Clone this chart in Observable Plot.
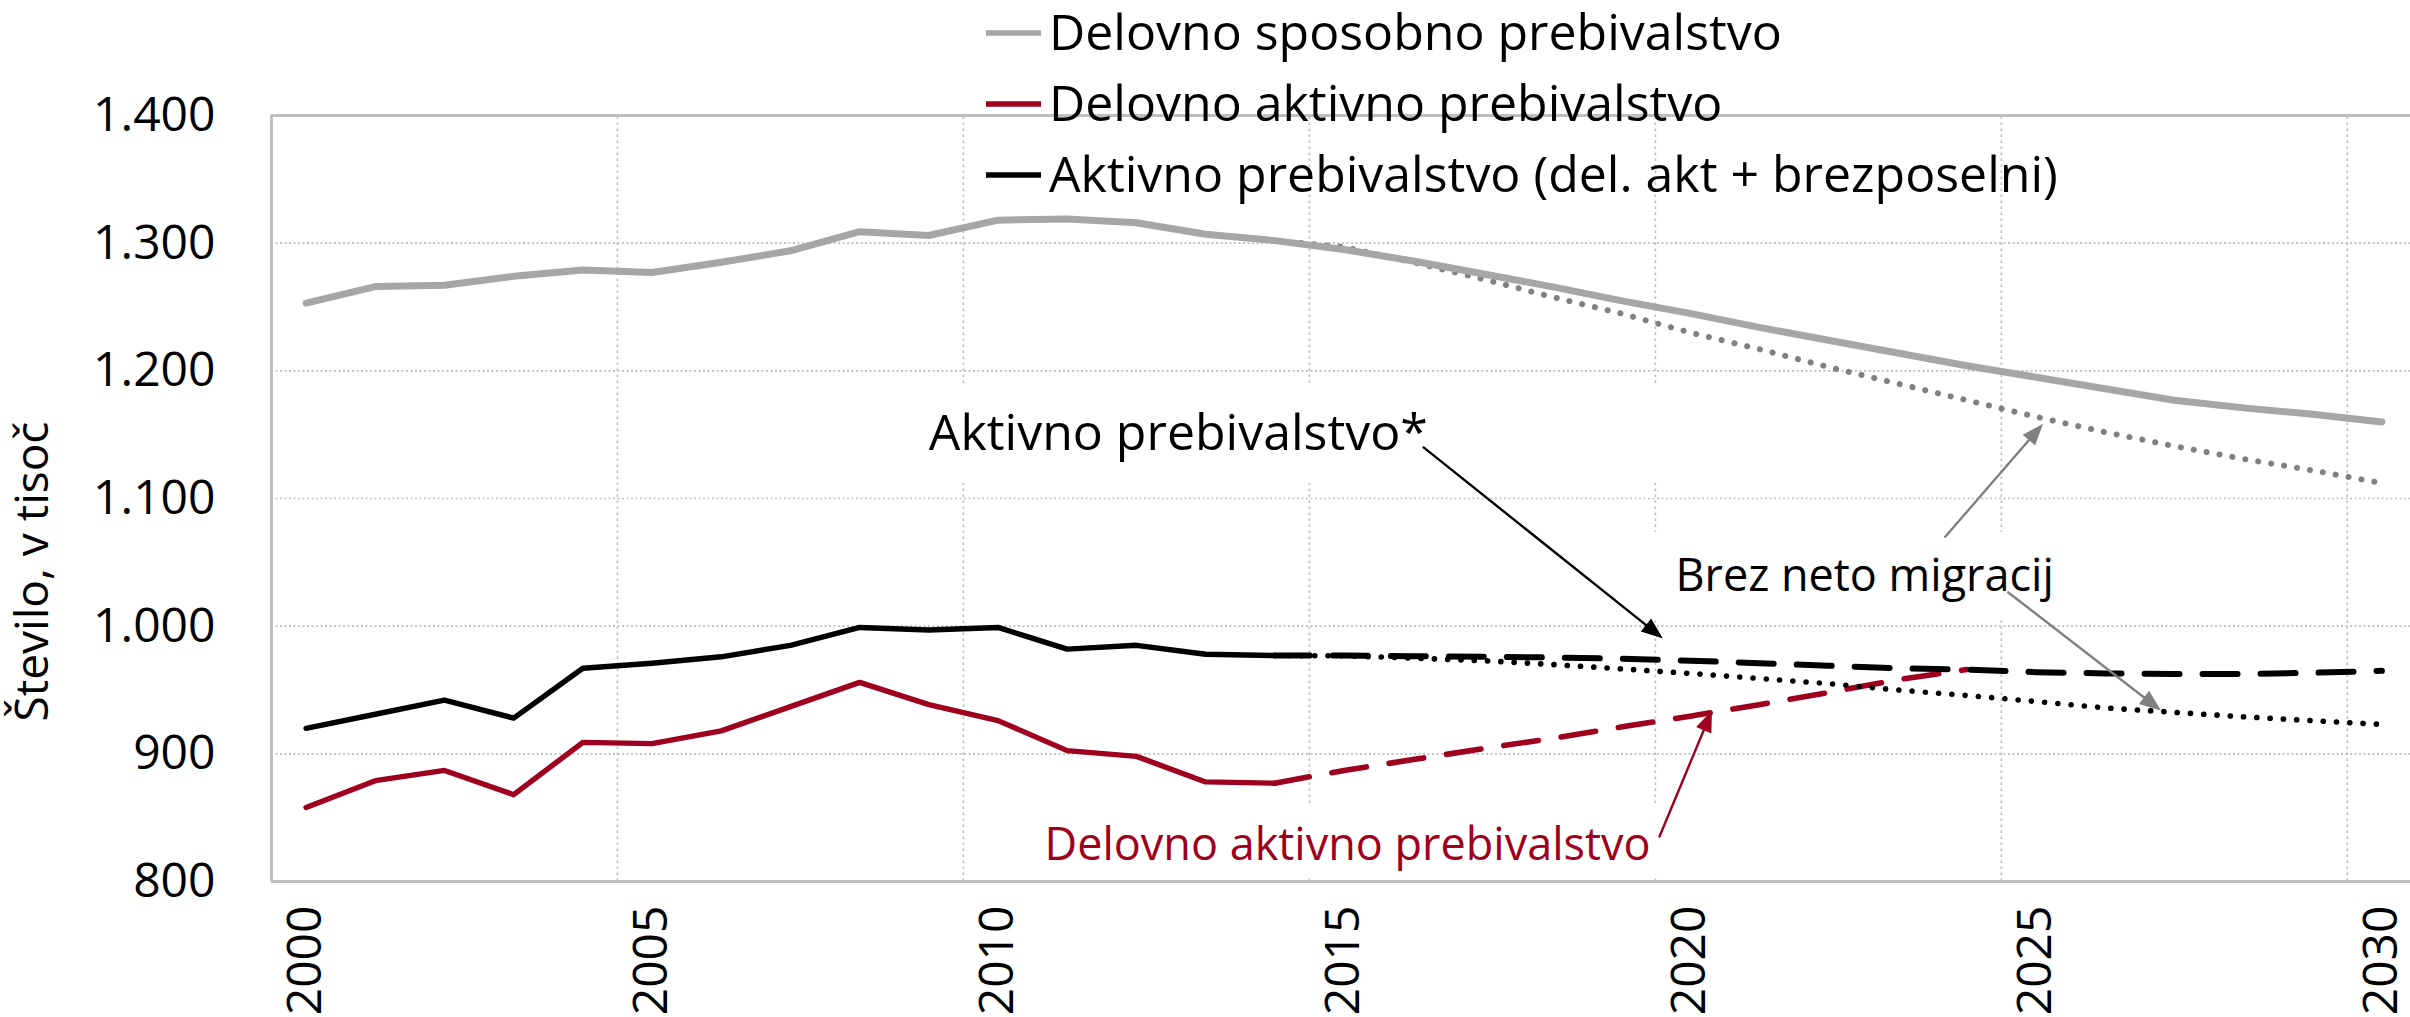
<!DOCTYPE html>
<html>
<head>
<meta charset="utf-8">
<script src="https://cdn.jsdelivr.net/npm/d3@7"></script>
<script src="https://cdn.jsdelivr.net/npm/@observablehq/plot@0.6"></script>
<style>
  html, body { margin: 0; padding: 0; background: #fff; overflow: hidden; }
  #wrap { position: relative; width: 2410px; height: 1017px; overflow: hidden; background: #fff; }
</style>
</head>
<body>
<div id="wrap"></div>
<script>
// ---------- DATA ----------
const years = [2000, 2001, 2002, 2003, 2004, 2005, 2006, 2007, 2008, 2009, 2010, 2011, 2012, 2013, 2014, 2015,
               2016, 2017, 2018, 2019, 2020, 2021, 2022, 2023, 2024, 2025, 2026, 2027, 2028, 2029, 2030];
// Delovno sposobno prebivalstvo (2000–2030)
const workingAge = [1253, 1266, 1267, 1274, 1279, 1277, 1285, 1294, 1309, 1306, 1318, 1319, 1316, 1307, 1302, 1295,
                    1286, 1276, 1266, 1255, 1245, 1234, 1224, 1214, 1204, 1195, 1186, 1177, 1171, 1166, 1160];
// Projection years
const projYears = [2014, 2015, 2016, 2017, 2018, 2019, 2020, 2021, 2022, 2023, 2024, 2025, 2026, 2027, 2028, 2029, 2030];
// Delovno sposobno prebivalstvo – brez neto migracij (2014–2030)
const workingAgeNoMig = [1302, 1297, 1285, 1272, 1258, 1245, 1230, 1217, 1203, 1190, 1177, 1164, 1152, 1141, 1131, 1122, 1112];

// Historical years
const histYears = [2000, 2001, 2002, 2003, 2004, 2005, 2006, 2007, 2008, 2009, 2010, 2011, 2012, 2013, 2014];
// Aktivno prebivalstvo (historical)
const activeHist = [920, 931, 942, 928, 967, 971, 976, 985, 999, 997, 999, 982, 985, 978, 977];
// Aktivno prebivalstvo* (projection)
const activeProj = [977, 977, 976.5, 976, 975.5, 974.5, 973, 971, 969, 967, 966, 964, 963, 962.5, 962.5, 963.5, 965];
// Aktivno prebivalstvo – brez neto migracij
const activeNoMig = [977, 976.8, 975, 973, 970, 966.6, 963, 959, 955, 950, 945.7, 941, 936, 932.5, 929, 926, 923];

// Delovno aktivno prebivalstvo (historical)
const employedHist = [858, 879, 887, 868, 909, 908, 918, 937, 956, 938.5, 926, 902.5, 898, 878, 877];
// Delovno aktivno prebivalstvo (projection 2014–2024)
const employedYears = [2014, 2015, 2016, 2017, 2018, 2019, 2020, 2021, 2022, 2023, 2024];
const employedProj = [877, 887, 895.5, 904, 912, 921, 929.5, 938.5, 948, 958, 966];

// Axis ticks
const yTicks = [800, 900, 1000, 1100, 1200, 1300, 1400];
const yGrid = [900, 1000, 1100, 1200, 1300];
const xTicks = [2000, 2005, 2010, 2015, 2020, 2025, 2030];
const xGrid = [2004.5, 2009.5, 2014.5, 2019.5, 2024.5, 2029.5];

// Legend
const legendLabels = ["Delovno sposobno prebivalstvo", "Delovno aktivno prebivalstvo", "Aktivno prebivalstvo (del. akt + brezposelni)"];
const legendColors = ["#a6a6a6", "#a00020", "#000000"];

// Annotations (data coordinates)
const noteLabels = ["Aktivno prebivalstvo*", "Brez neto migracij", "Delovno aktivno prebivalstvo"];
const noteX = [2009.0, 2019.79, 2019.43];
const noteY = [1137.6, 1027.9, 816.5];
// white text boxes behind the annotations
const boxX1 = [2008.8, 2019.28, 2010.47];
const boxX2 = [2020.15, 2025.5, 2019.65];
const boxY1 = [1111.8, 1004.4, 804.7];
const boxY2 = [1188.5, 1073.4, 861];
// arrows (from → to)
const arrowX1 = [2016.15, 2023.69, 2024.6, 2019.56];
const arrowY1 = [1140, 1070, 1026.4, 835.3];
const arrowX2 = [2019.57, 2025.07, 2026.77, 2020.30];
const arrowY2 = [992, 1156.5, 935.5, 931.6];
const arrowColors = ["#000000", "#808080", "#808080", "#a00020"];

// ---------- BUILD ----------
const rows = (xs, vs) => xs.map((x, i) => ({x, v: vs[i]}));
const RED = "#a00020";

const xOpts = {type: "linear", domain: [1999.5, 2030.5], range: [271, 2416]};
const yOpts = {type: "linear", domain: [800, 1400], range: [881, 115]};
const sx = Plot.scale({x: xOpts});
const sy = Plot.scale({y: yOpts});

const boxes = boxX1.map((d, i) => ({x1: d, x2: boxX2[i], y1: boxY1[i], y2: boxY2[i]}));

const headLen = 17, headHalf = 6.5;
const arrowShape = {
  draw(context, l) {
    context.moveTo(0, 0);
    context.lineTo(0, -(l - headLen + 1));
    context.moveTo(0, -l);
    context.lineTo(headHalf, -(l - headLen));
    context.lineTo(-headHalf, -(l - headLen));
    context.closePath();
  }
};
const arrowMarks = arrowX1.map((x1, i) => {
  const px1 = sx.apply(x1), py1 = sy.apply(arrowY1[i]);
  const px2 = sx.apply(arrowX2[i]), py2 = sy.apply(arrowY2[i]);
  const dx = px2 - px1, dy = py2 - py1;
  const len = Math.hypot(dx, dy);
  const ang = Math.atan2(dx, -dy) * 180 / Math.PI;
  return Plot.vector([{x: x1, y: arrowY1[i]}], {
    x: "x", y: "y", length: len, rotate: ang, anchor: "start",
    shape: arrowShape, stroke: arrowColors[i], fill: arrowColors[i],
    strokeWidth: 2.4, strokeLinejoin: "miter"
  });
});

const fmtY = d => d >= 1000 ? d3.format(",")(d).replace(",", ".") : String(d);

const chart = Plot.plot({
  width: 2410,
  height: 1017,
  marginLeft: 271,
  marginRight: 0,
  marginTop: 115,
  marginBottom: 136,
  x: xOpts,
  y: yOpts,
  style: {fontFamily: "'Open Sans', sans-serif", fontSize: "48px", color: "#000", background: "#fff", overflow: "hidden"},
  marks: [
    // gridlines
    Plot.ruleY(yGrid, {stroke: "#bdbdbd", strokeWidth: 1.6, strokeDasharray: "2 2.5"}),
    Plot.ruleX(xGrid, {y1: 800, y2: 1400, stroke: "#bdbdbd", strokeWidth: 1.6, strokeDasharray: "2.5 3.5"}),
    // white annotation boxes
    Plot.rect(boxes, {x1: "x1", x2: "x2", y1: "y1", y2: "y2", fill: "#fff"}),
    // frame
    Plot.ruleY([800, 1400], {stroke: "#bfbfbf", strokeWidth: 3}),
    Plot.ruleX([1999.5], {y1: 800, y2: 1400, stroke: "#bfbfbf", strokeWidth: 3}),
    // working-age population
    Plot.line(rows(projYears, workingAgeNoMig), {x: "x", y: "v", stroke: "#808080", strokeWidth: 6, strokeDasharray: "0.1 13", strokeLinecap: "round"}),
    Plot.line(rows(years, workingAge), {x: "x", y: "v", stroke: "#a6a6a6", strokeWidth: 7, strokeLinejoin: "round"}),
    // employed
    Plot.line(rows(histYears, employedHist), {x: "x", y: "v", stroke: RED, strokeWidth: 5.4, strokeLinejoin: "round"}),
    Plot.line(rows(employedYears, employedProj), {x: "x", y: "v", stroke: RED, strokeWidth: 5.6, strokeDasharray: "35 23", strokeLinecap: "round"}),
    // active
    Plot.line(rows(projYears, activeNoMig), {x: "x", y: "v", stroke: "#000", strokeWidth: 5.6, strokeDasharray: "0.1 13.2", strokeLinecap: "round"}),
    Plot.line(rows(histYears, activeHist), {x: "x", y: "v", stroke: "#000", strokeWidth: 5.4, strokeLinejoin: "round"}),
    Plot.line(rows(projYears, activeProj), {x: "x", y: "v", stroke: "#000", strokeWidth: 6, strokeDasharray: "35 23", strokeLinecap: "round"}),
    // arrows
    ...arrowMarks,
    // annotation texts
    Plot.text([noteLabels[0]], {x: () => noteX[0], y: () => noteY[0], text: d => d, textAnchor: "start", lineAnchor: "bottom", fontSize: 50, fill: "#000"}),
    Plot.text([noteLabels[1]], {x: () => noteX[1], y: () => noteY[1], text: d => d, textAnchor: "start", lineAnchor: "bottom", fontSize: 45, fill: "#000"}),
    Plot.text([noteLabels[2]], {x: () => noteX[2], y: () => noteY[2], text: d => d, textAnchor: "end", lineAnchor: "bottom", fontSize: 45, fill: RED}),
    // axes
    Plot.axisY({ticks: yTicks, tickSize: 0, tickPadding: 56, tickFormat: fmtY, label: null, fontSize: 48}),
    Plot.axisX({ticks: xTicks, tickSize: 0, tickPadding: 24, tickRotate: -90, tickFormat: d => String(d), label: null, fontSize: 48}),
    // y-axis title
    Plot.text(["Število, v tisoč"], {frameAnchor: "left", rotate: -90, dx: -238, dy: 73, text: d => d, fontSize: 46, textAnchor: "middle", lineAnchor: "middle", fill: "#000"})
  ]
});

// legend, drawn on top of the plot (transparent, overlapping the frame as in the original)
const lg = d3.select(chart).append("g")
  .attr("font-family", "'Open Sans', sans-serif")
  .attr("font-size", 50)
  .attr("text-anchor", "start");
const legendBaselines = [50, 121, 192];
legendLabels.forEach((lab, i) => {
  const yb = legendBaselines[i];
  lg.append("line").attr("x1", 986).attr("x2", 1041).attr("y1", yb - 17).attr("y2", yb - 17)
    .attr("stroke", legendColors[i]).attr("stroke-width", 5.5);
  lg.append("text").attr("x", 1049).attr("y", yb).attr("fill", "#000").attr("text-anchor", "start").text(lab);
});

document.getElementById("wrap").appendChild(chart);
</script>
</body>
</html>
